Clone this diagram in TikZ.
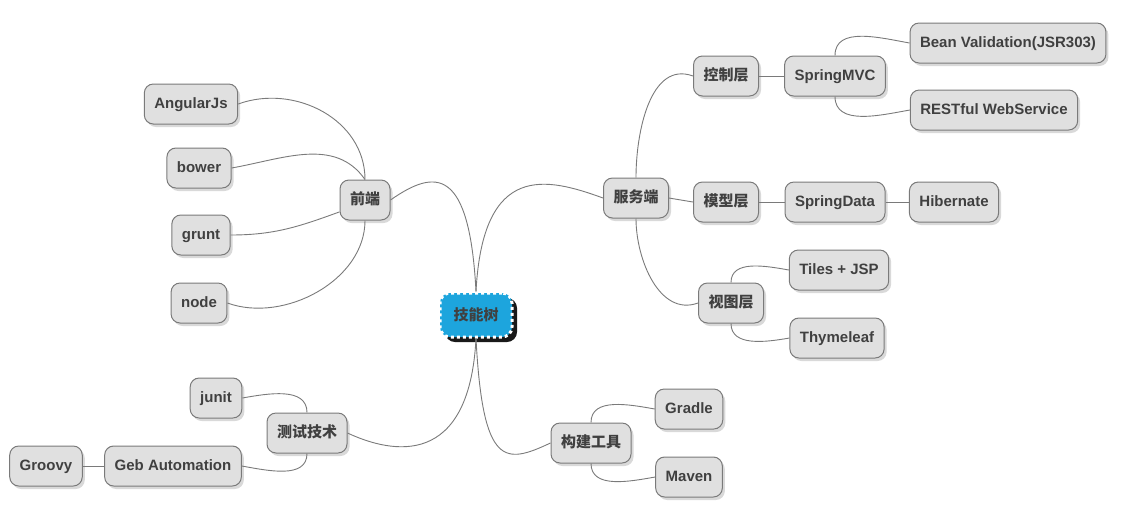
\documentclass[tikz,border=0pt]{standalone}
\usepackage{fontspec}
\setmainfont{Liberation Sans}
\newfontfamily\cjk{Noto Sans CJK SC}
\usetikzlibrary{shadows}
\definecolor{cajagris}{HTML}{E0E0E0}
\definecolor{bordegris}{HTML}{7A7A7A}
\definecolor{azulraiz}{HTML}{1DA5DD}
\definecolor{texto}{HTML}{404040}
\tikzset{
  caja/.style={draw=bordegris, fill=cajagris, line width=1pt, rounded corners=9pt,
    minimum height=40pt, inner xsep=10pt, text=texto, text height=11pt, text depth=3pt,
    font=\fontsize{15}{17}\selectfont\bfseries,
    drop shadow={shadow xshift=2.5pt, shadow yshift=-3pt, opacity=0.3}},
  raiz/.style={draw=white, fill=azulraiz, line width=3pt, dash pattern=on 3pt off 3pt,
    rounded corners=10pt, minimum width=72pt, minimum height=44pt, text=texto,
    font=\fontsize{15}{17}\selectfont\bfseries\cjk,
    drop shadow={shadow xshift=5pt, shadow yshift=-5pt, opacity=0.9, fill=black}},
  rama/.style={draw=bordegris, line width=0.9pt}
}
\begin{document}
\begin{tikzpicture}[x=1pt,y=1pt]
\useasboundingbox (0,-515) rectangle (1137,0);
% Nodo central
\node[raiz] (raiz) at (476,-315) {技能树};
% Ramas principales
\node[caja] (fe) at (365,-200) {\cjk 前端};
\node[caja] (svc) at (636,-198) {\cjk 服务端};
\node[caja] (build) at (591,-443) {\cjk 构建工具};
\node[caja] (test) at (307,-433) {\cjk 测试技术};
% Capas
\node[caja] (ctrl) at (726,-76) {\cjk 控制层};
\node[caja] (model) at (726,-202) {\cjk 模型层};
\node[caja] (view) at (731,-303) {\cjk 视图层};
% Hojas
\foreach \nombre/\x/\y/\txt in {ang/191/-104/AngularJs, bower/199/-168/bower,
    grunt/201/-235/grunt, nodejs/199/-303/node, mvc/835/-76/SpringMVC,
    bean/1008/-43/Bean Validation(JSR303), rest/994/-110/RESTful WebService,
    data/835/-202/SpringData, hib/954/-202/Hibernate, tiles/839/-270/Tiles + JSP,
    thym/837/-338/Thymeleaf, gradle/689/-409/Gradle, maven/689/-477/Maven,
    junit/216/-398/junit, geb/173/-466/Geb Automation, groovy/46/-466/Groovy}
        \node[caja] (\nombre) at (\x,\y) {\txt};
% Conexiones del centro
\draw[rama] (raiz.north) to[out=93,in=35,out distance=125pt,in distance=55pt] (fe.east);
\draw[rama] (raiz.north) to[out=87,in=160,out distance=130pt,in distance=60pt] (svc.west);
\draw[rama] (raiz.south) to[out=-93,in=-25,out distance=130pt,in distance=50pt] (test.east);
\draw[rama] (raiz.south) to[out=-87,in=205,out distance=130pt,in distance=50pt] (build.west);
% Front
\draw[rama] (fe.north) to[out=90,in=20,out distance=60pt,in distance=60pt] (ang.east);
\draw[rama] (fe.north) to[out=125,in=10] (bower.east);
\draw[rama] (fe.205) to[out=200,in=0] (grunt.east);
\draw[rama] (fe.south) to[out=-90,in=-20,out distance=60pt,in distance=60pt] (nodejs.east);
% Servidor
\draw[rama] (svc.north) to[out=90,in=160] (ctrl.west);
\draw[rama] (svc.east) -- (model.west);
\draw[rama] (svc.south) to[out=-90,in=200] (view.west);
\draw[rama] (ctrl.east) -- (mvc.west);
\draw[rama] (mvc.north) to[out=90,in=170] (bean.west);
\draw[rama] (mvc.south) to[out=-90,in=190] (rest.west);
\draw[rama] (model.east) -- (data.west);
\draw[rama] (data.east) -- (hib.west);
\draw[rama] (view.north) to[out=90,in=170] (tiles.west);
\draw[rama] (view.south) to[out=-90,in=190] (thym.west);
% Build y test
\draw[rama] (build.north) to[out=90,in=170] (gradle.west);
\draw[rama] (build.south) to[out=-90,in=190] (maven.west);
\draw[rama] (test.north) to[out=90,in=10] (junit.east);
\draw[rama] (test.south) to[out=-90,in=-10] (geb.east);
\draw[rama] (geb.west) -- (groovy.east);
\end{tikzpicture}
\end{document}
